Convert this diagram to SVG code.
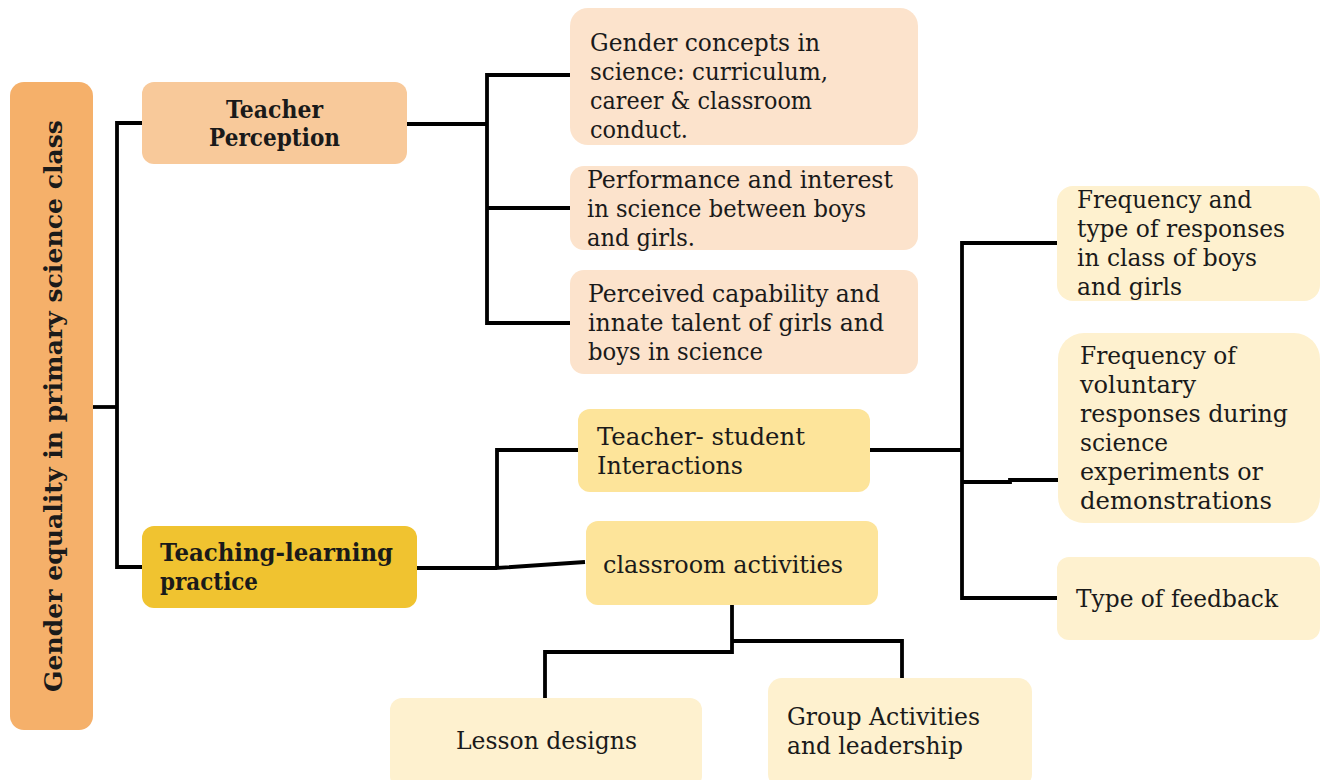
<svg xmlns="http://www.w3.org/2000/svg" width="1320" height="780" viewBox="0 0 1320 780">
<style>
text{font-family:"DejaVu Serif","Liberation Serif",serif;font-size:24px;fill:#1a1a1a}
.b{font-weight:bold}
.c{fill:none;stroke:#000;stroke-width:3.8;stroke-linejoin:miter}
</style>
<rect width="1320" height="780" fill="#fff"/>
<g id="connectors">
<polyline class="c" points="93,407 117,407"/>
<polyline class="c" points="142,123 117,123 117,567 142,567"/>
<polyline class="c" points="407,124 487,124"/>
<polyline class="c" points="570,75 487,75 487,323 570,323"/>
<polyline class="c" points="487,208 570,208"/>
<polyline class="c" points="417,568 497,568"/>
<polyline class="c" points="578,450 497,450 497,568 585,562"/>
<polyline class="c" points="870,450 962,450"/>
<polyline class="c" points="1057,243 962,243 962,598 1057,598"/>
<polyline class="c" points="962,482 1010,482 1010,480 1059,480"/>
<polyline class="c" points="732,605 732,652 545,652 545,698"/>
<polyline class="c" points="732,641 902,641 902,678"/>
</g>
<g id="root">
<rect x="10" y="82" width="83" height="648" rx="14" fill="#F5B06A"/>
<text class="b" transform="translate(62,692) rotate(-90)" font-size="28" textLength="572" lengthAdjust="spacingAndGlyphs">Gender equality in primary science class</text>
</g>
<g id="teacher-perception">
<rect x="142" y="82" width="265" height="82" rx="12" fill="#F8C99A"/>
<text class="b" x="226" y="118" textLength="97" lengthAdjust="spacingAndGlyphs">Teacher</text>
<text class="b" x="209" y="146" textLength="131" lengthAdjust="spacingAndGlyphs">Perception</text>
</g>
<g id="gender-concepts">
<rect x="570" y="8" width="348" height="137" rx="18" fill="#FCE3CC"/>
<text x="590" y="51" textLength="230" lengthAdjust="spacingAndGlyphs">Gender concepts in</text>
<text x="590" y="80" textLength="238" lengthAdjust="spacingAndGlyphs">science: curriculum,</text>
<text x="590" y="109" textLength="222" lengthAdjust="spacingAndGlyphs">career &amp; classroom</text>
<text x="590" y="138" textLength="98" lengthAdjust="spacingAndGlyphs">conduct.</text>
</g>
<g id="performance">
<rect x="570" y="166" width="348" height="84" rx="14" fill="#FCE3CC"/>
<text x="587" y="188" textLength="306" lengthAdjust="spacingAndGlyphs">Performance and interest</text>
<text x="587" y="217" textLength="279" lengthAdjust="spacingAndGlyphs">in science between boys</text>
<text x="587" y="246" textLength="108" lengthAdjust="spacingAndGlyphs">and girls.</text>
</g>
<g id="perceived">
<rect x="570" y="270" width="348" height="104" rx="14" fill="#FCE3CC"/>
<text x="588" y="302" textLength="292" lengthAdjust="spacingAndGlyphs">Perceived capability and</text>
<text x="588" y="331" textLength="296" lengthAdjust="spacingAndGlyphs">innate talent of girls and</text>
<text x="588" y="360" textLength="175" lengthAdjust="spacingAndGlyphs">boys in science</text>
</g>
<g id="teaching-learning">
<rect x="142" y="526" width="275" height="82" rx="12" fill="#F0C330"/>
<text class="b" x="160" y="561" textLength="233" lengthAdjust="spacingAndGlyphs">Teaching-learning</text>
<text class="b" x="160" y="590" textLength="98" lengthAdjust="spacingAndGlyphs">practice</text>
</g>
<g id="teacher-student">
<rect x="578" y="409" width="292" height="83" rx="12" fill="#FDE49A"/>
<text x="597" y="445" textLength="208" lengthAdjust="spacingAndGlyphs">Teacher- student</text>
<text x="597" y="474" textLength="146" lengthAdjust="spacingAndGlyphs">Interactions</text>
</g>
<g id="classroom-activities">
<rect x="586" y="521" width="292" height="84" rx="12" fill="#FDE49A"/>
<text x="603" y="573" textLength="240" lengthAdjust="spacingAndGlyphs">classroom activities</text>
</g>
<g id="frequency-type">
<rect x="1057" y="186" width="263" height="115" rx="16" fill="#FEF1CF"/>
<text x="1077" y="208" textLength="175" lengthAdjust="spacingAndGlyphs">Frequency and</text>
<text x="1077" y="237" textLength="208" lengthAdjust="spacingAndGlyphs">type of responses</text>
<text x="1077" y="266" textLength="180" lengthAdjust="spacingAndGlyphs">in class of boys</text>
<text x="1077" y="295" textLength="105" lengthAdjust="spacingAndGlyphs">and girls</text>
</g>
<g id="frequency-voluntary">
<rect x="1058" y="333" width="262" height="190" rx="26" fill="#FEF1CF"/>
<text x="1080" y="364" textLength="156" lengthAdjust="spacingAndGlyphs">Frequency of</text>
<text x="1080" y="393" textLength="116" lengthAdjust="spacingAndGlyphs">voluntary</text>
<text x="1080" y="422" textLength="208" lengthAdjust="spacingAndGlyphs">responses during</text>
<text x="1080" y="451" textLength="88" lengthAdjust="spacingAndGlyphs">science</text>
<text x="1080" y="480" textLength="183" lengthAdjust="spacingAndGlyphs">experiments or</text>
<text x="1080" y="509" textLength="192" lengthAdjust="spacingAndGlyphs">demonstrations</text>
</g>
<g id="feedback">
<rect x="1057" y="557" width="263" height="83" rx="12" fill="#FEF1CF"/>
<text x="1076" y="607" textLength="202" lengthAdjust="spacingAndGlyphs">Type of feedback</text>
</g>
<g id="lesson-designs">
<rect x="390" y="698" width="312" height="90" rx="12" fill="#FEF1CF"/>
<text x="456" y="749" textLength="181" lengthAdjust="spacingAndGlyphs">Lesson designs</text>
</g>
<g id="group-activities">
<rect x="768" y="678" width="264" height="110" rx="14" fill="#FEF1CF"/>
<text x="787" y="725" textLength="193" lengthAdjust="spacingAndGlyphs">Group Activities</text>
<text x="787" y="754" textLength="176" lengthAdjust="spacingAndGlyphs">and leadership</text>
</g>
</svg>
